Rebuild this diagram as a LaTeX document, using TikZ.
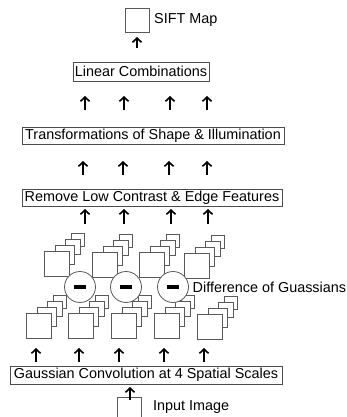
\documentclass[tikz,border=0pt]{standalone}
\usepackage{fontspec}
\setmainfont{Liberation Sans}
\usetikzlibrary{arrows.meta}

\tikzset{
  lbl/.style={inner sep=0pt, anchor=west, font=\fontsize{14.4}{16}\selectfont},
  stagebox/.style={draw=black!70, line width=0.8pt, inner sep=0pt,
    font=\fontsize{14.4}{16}\selectfont},
  mapbox/.style={draw=black!65, line width=0.8pt, inner sep=0pt, minimum size=24pt},
  sq/.style={draw=black!65, line width=0.8pt, fill=white},
  uparrow/.style={line width=1.6pt, -{Straight Barb[length=4.2pt,width=9pt]}},
  diffop/.style={circle, draw=black!65, line width=0.8pt, fill=white,
    minimum size=31pt, inner sep=0pt},
  minusbar/.style={fill=black, inner sep=0pt, minimum width=11.6pt, minimum height=4.4pt},
  stack/.pic={
    \foreach \dx/\dy/\s in {27/-18/13, 21/-12/15, 11/-6/19, 0/0/25}
      \draw[sq] (\dx,\dy) rectangle ++(\s,\s);
  }
}

\begin{document}
\begin{tikzpicture}[x=1pt, y=-1pt]
\useasboundingbox (0,0) rectangle (346,417);

% output map
\node[mapbox] (sift) at (137,20) {};
\node[lbl] (siftlbl) at (154,20) {SIFT Map};

% processing stages
\node[stagebox, minimum width=136pt, minimum height=19pt] (lin) at (141,71.5) {Linear Combinations};
\node[stagebox, minimum width=262pt, minimum height=16.5pt] (trans) at (153,136) {Transformations of Shape \& Illumination};
\node[stagebox, minimum width=260pt, minimum height=17pt] (remove) at (152,197.5) {Remove Low Contrast \& Edge Features};
\node[stagebox, minimum width=272pt, minimum height=18pt] (gauss) at (146,375) {Gaussian Convolution at 4 Spatial Scales};

% input image
\node[mapbox, anchor=north] (input) at (129,397) {};
\node[lbl] (inputlbl) at (153,407) {Input Image};

% blurred image stacks (4 scales)
\foreach \i/\x/\y in {1/26/313, 2/68/313, 3/111/313, 4/154/313, 5/197/314}
  \pic (low\i) at (\x,\y) {stack};
% difference images
\foreach \i/\x/\y in {1/44/251, 2/92/252, 3/139/252, 4/184/253}
  \pic (dog\i) at (\x,\y) {stack};

% subtraction operators
\foreach \i/\x in {1/80, 2/126, 3/173} {
  \node[diffop] (m\i) at (\x,287) {};
  \node[minusbar] (mb\i) at (m\i.center) {};
}
\node[lbl] (doglbl) at (192.5,287) {Difference of Guassians};

% arrows
\coordinate (sa) at (137,48);
\coordinate (sb) at (137,37);
\draw[uparrow] (sa) -- (sb);

\foreach \x [count=\i] in {85,124,170,207} {
  \coordinate (ra\i) at (\x,110);
  \coordinate (rb\i) at (\x,96);
  \draw[uparrow] (ra\i) -- (rb\i);
}
\foreach \x [count=\i] in {83,123,169,207} {
  \coordinate (ta\i) at (\x,175);
  \coordinate (tb\i) at (\x,161);
  \draw[uparrow] (ta\i) -- (tb\i);
}
\foreach \x [count=\i] in {85,124,171,208} {
  \coordinate (ua\i) at (\x,224);
  \coordinate (ub\i) at (\x,209);
  \draw[uparrow] (ua\i) -- (ub\i);
}
\foreach \x [count=\i] in {36,79,119,164,204} {
  \coordinate (ga\i) at (\x,362);
  \coordinate (gb\i) at (\x,348);
  \draw[uparrow] (ga\i) -- (gb\i);
}
\coordinate (ia) at (130,400);
\coordinate (ib) at (130,387);
\draw[uparrow] (ia) -- (ib);
\end{tikzpicture}
\end{document}
